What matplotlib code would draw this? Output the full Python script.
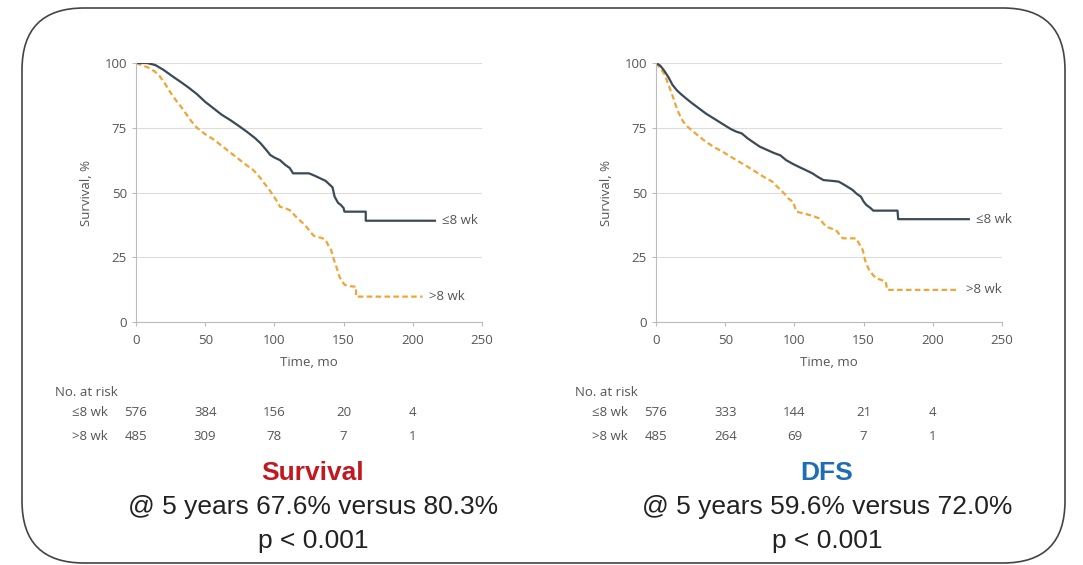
import numpy as np
import matplotlib
matplotlib.use("Agg")
import matplotlib.pyplot as plt
from matplotlib.patches import FancyBboxPatch

plt.rcParams['font.family'] = ['Open Sans', 'DejaVu Sans']

# Survival curves (time in months, survival %)
os_t_early = [0, 8, 14, 20, 26, 32, 38, 44, 50, 56, 62, 68, 74, 80, 86, 90, 94, 97, 100, 104, 108, 111, 113.5,
              125, 129, 133, 137, 140, 142, 143.5, 146, 148, 150, 150.6, 166, 166, 216]
os_s_early = [100, 100, 99.2, 97.3, 95, 92.8, 90.5, 88, 85, 82.5, 80, 78, 75.8, 73.5, 71, 69, 66.5, 64.5, 63.5,
              62.5, 60.6, 59.5, 57.4, 57.4, 56.5, 55.5, 54.5, 53, 52, 48.4, 46, 45.2, 44, 42.6, 42.6, 39.1, 39.1]
os_t_late = [0, 5, 10, 14, 17, 21, 25, 29, 32, 36, 40, 44, 50, 56, 62, 68, 74, 80, 84, 87, 90, 92, 95, 99, 102,
             104, 108, 111, 115, 118, 122, 125, 128, 130, 134, 137, 139, 141, 143, 145, 147, 149, 151, 155, 159,
             159, 207]
os_s_late = [100, 99, 98, 96.5, 95, 92, 88.5, 85.5, 83.5, 80.5, 77.5, 75, 72.5, 70.5, 68, 65.5, 63, 60.5, 59,
             57.4, 55.5, 54, 52, 49, 46.5, 44.5, 43.9, 43.2, 41, 39.4, 37.5, 35.5, 33.5, 32.9, 32.5, 31.7, 29.5,
             27.8, 24, 21, 17.5, 15.5, 14.3, 13.8, 13.6, 9.8, 9.8]

dfs_t_early = [0, 3, 6, 9, 12, 15, 18, 22, 26, 31, 36, 42, 48, 54, 58, 62, 66, 70, 75, 80, 85, 90, 94, 99, 104,
               108, 113, 117, 121, 127, 132, 135, 139, 142, 145, 148, 150, 152, 155, 157, 174.5, 175, 226]
dfs_s_early = [100, 99, 97, 94.5, 91.5, 89.5, 88, 86.2, 84.5, 82.5, 80.5, 78.5, 76.5, 74.5, 73.5, 72.8, 71, 69.5,
               67.7, 66.5, 65.3, 64.3, 62.5, 61, 59.7, 58.7, 57.4, 56, 54.8, 54.5, 54.2, 53.3, 52, 51, 49.5, 48.4,
               46.5, 45.2, 44, 43, 43, 39.7, 39.7]
dfs_t_late = [0, 3, 6.5, 8, 10, 12.5, 15, 17, 19.7, 23, 27, 31, 36, 42, 48, 54, 60, 66, 72, 78, 84, 88, 92, 96, 99,
              101.4, 106, 111, 115, 118, 121, 123, 127, 130, 133, 135, 140, 144.6, 147, 149.4, 151, 151.8, 154,
              157, 159, 163, 166, 167, 219]
dfs_s_late = [100, 98, 95.4, 93, 90.2, 86.5, 82.5, 80, 77.3, 75.3, 73.5, 71.7, 69.6, 67.5, 65.8, 63.8, 61.9, 60,
              58, 56, 54.2, 52, 50, 47.5, 46.5, 42.6, 42, 41.3, 40.6, 40, 38, 36.8, 36, 35.5, 33.5, 32.3, 32.3,
              32.3, 30, 27.8, 24, 22.7, 20.1, 18, 16.9, 16.2, 15.6, 12.4, 12.4]

risk_times = [0, 50, 100, 150, 200]
os_risk_early = [576, 384, 156, 20, 4]
os_risk_late = [485, 309, 78, 7, 1]
dfs_risk_early = [576, 333, 144, 21, 4]
dfs_risk_late = [485, 264, 69, 7, 1]

dark = '#3b4a55'
orange = '#f0a535'
gray = '#555555'
big_font = ['Liberation Sans', 'DejaVu Sans']
small = 9.5

W, H = 1083, 565
fig = plt.figure(figsize=(W / 100, H / 100), dpi=100, facecolor='white')

box = FancyBboxPatch((0.22, 0.02), 10.43, 5.55, boxstyle="round,pad=0,rounding_size=0.62",
                     transform=fig.dpi_scale_trans, fc='none', ec='#444444', lw=1.2, zorder=5)
fig.patches.append(box)


def km_panel(left_px, center_px, curves, risk_early, risk_late, title, title_color, stat):
    ax = fig.add_axes([left_px / W, 1 - 322 / H, 346 / W, 259 / H])
    (te, se), (tl, sl) = curves
    ax.plot(tl, sl, color=orange, lw=1.6, ls=(0, (2.5, 1.5)))
    ax.plot(te, se, color=dark, lw=1.6)
    ax.text(te[-1] + 5, se[-1], '≤8 wk', color=gray, fontsize=small, va='center')
    ax.text(tl[-1] + 5, sl[-1], '>8 wk', color=gray, fontsize=small, va='center')
    ax.set_xlim(0, 250)
    ax.set_ylim(0, 100)
    ax.set_xticks([0, 50, 100, 150, 200, 250])
    ax.set_yticks([0, 25, 50, 75, 100])
    ax.grid(axis='y', color='#dddddd', lw=0.8)
    ax.set_axisbelow(True)
    for s in ['top', 'right']:
        ax.spines[s].set_visible(False)
    for s in ['left', 'bottom']:
        ax.spines[s].set_color('#bbbbbb')
    ax.tick_params(colors='#bbbbbb', labelcolor=gray, labelsize=small, length=3)
    ax.tick_params(axis='x', pad=6)
    ax.set_xlabel('Time, mo', color=gray, fontsize=small, labelpad=6)
    ax.set_ylabel('Survival, %', color=gray, fontsize=small, labelpad=8)

    # number at risk table
    tr = ax.get_xaxis_transform()
    fig.text((left_px - 81) / W, 1 - 392 / H, 'No. at risk', color=gray, fontsize=small, va='center')
    fig.text((left_px - 28) / W, 1 - 412 / H, '≤8 wk', color=gray, fontsize=small, va='center', ha='right')
    fig.text((left_px - 28) / W, 1 - 436 / H, '>8 wk', color=gray, fontsize=small, va='center', ha='right')
    yr1 = -(412 - 322) / 259
    yr2 = -(436 - 322) / 259
    for t, a, b in zip(risk_times, risk_early, risk_late):
        ax.text(t, yr1, str(a), transform=tr, color=gray, fontsize=small, ha='center', va='center')
        ax.text(t, yr2, str(b), transform=tr, color=gray, fontsize=small, ha='center', va='center')

    fig.text(center_px / W, 1 - 473 / H, title, color=title_color, fontsize=19, fontweight='bold',
             ha='center', va='center', family=big_font)
    fig.text(center_px / W, 1 - 507 / H, stat, color='#222222', fontsize=19,
             ha='center', va='center', family=big_font)
    fig.text(center_px / W, 1 - 541 / H, 'p < 0.001', color='#222222', fontsize=19,
             ha='center', va='center', family=big_font)


km_panel(136, 313, ((os_t_early, os_s_early), (os_t_late, os_s_late)), os_risk_early, os_risk_late,
         'Survival', '#c0191f', '@ 5 years 67.6% versus 80.3%')
km_panel(656, 827, ((dfs_t_early, dfs_s_early), (dfs_t_late, dfs_s_late)), dfs_risk_early, dfs_risk_late,
         'DFS', '#1f6db4', '@ 5 years 59.6% versus 72.0%')

fig.savefig('out.png', dpi=100)
